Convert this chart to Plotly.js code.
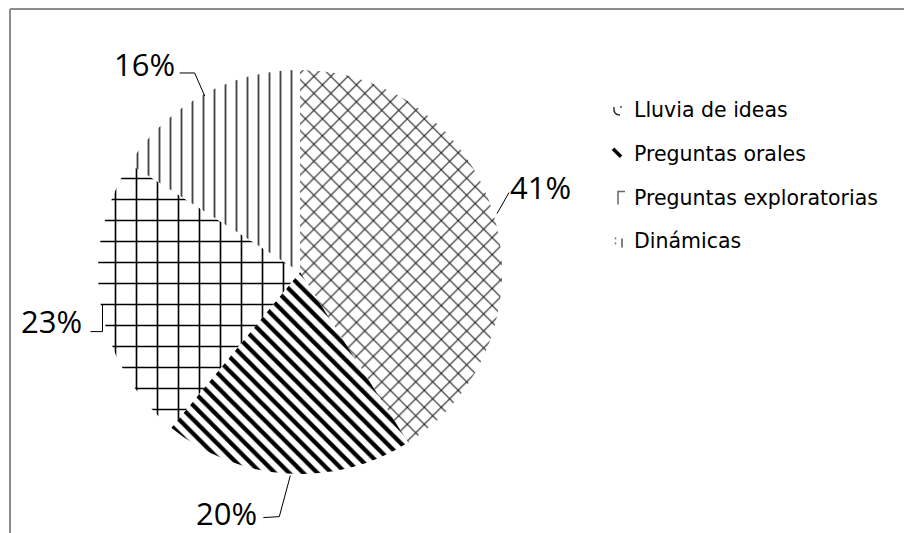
<!DOCTYPE html>
<html>
<head>
<meta charset="utf-8">
<script src="https://cdn.plot.ly/plotly-3.0.1.min.js"></script>
<style>
  html, body { margin: 0; padding: 0; background: #ffffff; }
  #chart { width: 904px; height: 533px; }
</style>
</head>
<body>
<div id="chart"></div>
<script>
// ---- data ----
const categories = ["Lluvia de ideas", "Preguntas orales", "Preguntas exploratorias", "Dinámicas"];
const values = [41, 20, 23, 16];
const percentLabels = ["41%", "20%", "23%", "16%"];

// ---- styles ----
const patternShapes = ["x", "\\", "+", "|"];
const patternSizes = [12, 10, 21, 11];
const patternSolidity = [0.17, 0.42, 0.15, 0.17];
const patternColors = ["#1a1a1a", "#000000", "#000000", "#444444"];
// label centre offset from slice edge point (px), and leader-line bend offsets (px)
const labelOffsets = [[47, -29], [-61, 39], [-49, 17], [-58, -31]];
const leaderBends = [[[3, -2], [15, -23]], [[3, 2], [-8, 43], [-24, 44]], [[2, 1], [2, 28], [-10, 28]], [[2, 1], [-8, -22], [-23, -22]]];

const W = 904, H = 533;
const cx = 300, cy = 272, R = 202; // pie centre / radius in px
const FONT = "'Open Sans', 'Noto Sans', sans-serif";
const LEGEND_FONT = "'DejaVu Sans', 'Open Sans', sans-serif";
const px2x = x => x / W;
const px2y = y => 1 - y / H;
const P = (x, y) => px2x(x).toFixed(5) + "," + px2y(y).toFixed(5);

const total = values.reduce((a, b) => a + b, 0);
let cum = 0;
const annotations = [];
const shapes = [];
values.forEach((v, i) => {
  const mid = (cum + v / 2) / total * 2 * Math.PI;
  cum += v;
  const ex = cx + R * Math.sin(mid);
  const ey = cy - R * Math.cos(mid);
  annotations.push({
    x: px2x(ex + labelOffsets[i][0]), y: px2y(ey + labelOffsets[i][1]),
    xref: "paper", yref: "paper", xanchor: "center", yanchor: "middle",
    text: percentLabels[i], showarrow: false,
    font: { family: FONT, size: 31, color: "#000" }
  });
  const pts = leaderBends[i].map(b => P(ex + b[0], ey + b[1]));
  shapes.push({
    type: "path", xref: "paper", yref: "paper",
    path: "M" + pts.join(" L"),
    line: { color: "#000", width: 1 }
  });
});

// custom legend (text from categories)
const legendX = 632, legendY0 = 110, legendStep = 43.8;
categories.forEach((c, i) => {
  annotations.push({
    x: px2x(legendX), y: px2y(legendY0 + i * legendStep),
    xref: "paper", yref: "paper", xanchor: "left", yanchor: "middle",
    text: c, showarrow: false,
    font: { family: LEGEND_FONT, size: 20.5, color: "#000" }
  });
});
// tiny legend swatches imitating the pattern fragments
const ly = i => legendY0 + i * legendStep;
shapes.push(
  { type: "path", xref: "paper", yref: "paper", path: "M" + P(614, ly(0) - 3) + " Q" + P(613, ly(0) + 5) + " " + P(620, ly(0) + 5),
    line: { color: "#333", width: 1.5 } },
  { type: "line", xref: "paper", yref: "paper", x0: px2x(621), x1: px2x(621), y0: px2y(ly(0) - 4), y1: px2y(ly(0) - 2),
    line: { color: "#555", width: 1.5 } },
  { type: "line", xref: "paper", yref: "paper", x0: px2x(613), x1: px2x(621), y0: px2y(ly(1) - 5), y1: px2y(ly(1) + 3),
    line: { color: "#000", width: 3.5 } },
  { type: "path", xref: "paper", yref: "paper", path: "M" + P(618, ly(2) + 7) + " L" + P(618, ly(2) - 6) + " L" + P(625, ly(2) - 6),
    line: { color: "#666", width: 1.5 } },
  { type: "line", xref: "paper", yref: "paper", x0: px2x(615.5), x1: px2x(615.5), y0: px2y(ly(3) - 4), y1: px2y(ly(3) - 2),
    line: { color: "#777", width: 1.5 } },
  { type: "line", xref: "paper", yref: "paper", x0: px2x(615.5), x1: px2x(615.5), y0: px2y(ly(3) + 1), y1: px2y(ly(3) + 3),
    line: { color: "#777", width: 1.5 } },
  { type: "line", xref: "paper", yref: "paper", x0: px2x(622), x1: px2x(622), y0: px2y(ly(3) - 3), y1: px2y(ly(3) + 6),
    line: { color: "#555", width: 1.5 } }
);
// chart frame (top and left edges)
shapes.push(
  { type: "line", xref: "paper", yref: "paper", x0: px2x(10), x1: 1, y0: px2y(9), y1: px2y(9),
    line: { color: "#8c8c8c", width: 2 } },
  { type: "line", xref: "paper", yref: "paper", x0: px2x(10), x1: px2x(10), y0: 0, y1: px2y(9),
    line: { color: "#8c8c8c", width: 2 } }
);

const trace = {
  type: "pie",
  labels: categories,
  values: values,
  sort: false,
  direction: "clockwise",
  rotation: 0,
  textinfo: "none",
  hoverinfo: "label+percent",
  showlegend: false,
  marker: {
    colors: ["#ffffff", "#ffffff", "#ffffff", "#ffffff"],
    line: { width: 0 },
    pattern: {
      shape: patternShapes,
      size: patternSizes,
      solidity: patternSolidity,
      fgcolor: patternColors,
      bgcolor: "#ffffff",
      fgopacity: 1,
      fillmode: "replace"
    }
  },
  domain: {
    x: [(cx - R) / W, (cx + R) / W],
    y: [1 - (cy + R) / H, 1 - (cy - R) / H]
  }
};

const layout = {
  width: W, height: H,
  margin: { l: 0, r: 0, t: 0, b: 0 },
  paper_bgcolor: "#ffffff",
  showlegend: false,
  annotations: annotations,
  shapes: shapes
};

Plotly.newPlot("chart", [trace], layout, { displayModeBar: false, staticPlot: true });
</script>
</body>
</html>
